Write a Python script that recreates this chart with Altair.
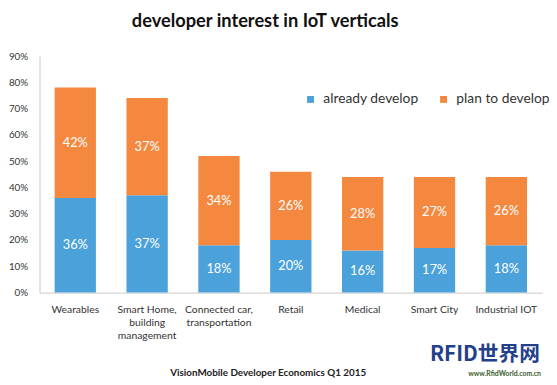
import altair as alt
import pandas as pd

categories = ["Wearables", "Smart Home,|building|management", "Connected car,|transportation",
              "Retail", "Medical", "Smart City", "Industrial IOT"]
already = [36, 37, 18, 20, 16, 17, 18]
plan = [42, 37, 34, 26, 28, 27, 26]
series = ["already develop", "plan to develop"]
colors = ["#4BA2DA", "#F5883F"]
y_ticks = [0, 10, 20, 30, 40, 50, 60, 70, 80, 90]
title_text = "developer interest in IoT verticals"
footer_text = "VisionMobile Developer Economics Q1 2015"
wm_text = "RFID世界网"
wm_url = "www.RfidWorld.com.cn"

rows = []
for c, a, p in zip(categories, already, plan):
    rows.append({"category": c, "series": series[0], "value": a, "order": 0})
    rows.append({"category": c, "series": series[1], "value": p, "order": 1})
df = pd.DataFrame(rows)

FONT = "Lato"

x_axis = alt.Axis(labelAngle=0, labelExpr="split(datum.label, '|')", labelFontSize=10.5,
                  labelLineHeight=13.5, labelPadding=12, ticks=False, domainColor="#c8c8c8",
                  labelColor="#333333", labelFont=FONT)
y_axis = alt.Axis(values=y_ticks, labelExpr="datum.value + '%'", grid=False, ticks=False,
                  labelPadding=12, labelFontSize=10, labelColor="#333333",
                  labelOverlap=False, domainColor="#c8c8c8", labelFont=FONT)
x_scale = alt.Scale(paddingInner=0.425, paddingOuter=0.21)
y_scale = alt.Scale(domain=[0, 90], nice=False)

base = (
    alt.Chart(df)
    .transform_stack(stack="value", as_=["v0", "v1"], groupby=["category"],
                     sort=[alt.SortField("order", order="ascending")])
    .transform_calculate(mid="(datum.v0 + datum.v1) / 2", label="datum.value + '%'")
)

bars = base.mark_bar().encode(
    x=alt.X("category:N", sort=categories, title=None, scale=x_scale, axis=x_axis),
    y=alt.Y("v0:Q", title=None, scale=y_scale, axis=y_axis),
    y2="v1:Q",
    color=alt.Color("series:N", scale=alt.Scale(domain=series, range=colors),
                    legend=alt.Legend(orient="none", legendX=268, legendY=37, direction="horizontal",
                                      title=None, symbolType="square", symbolSize=49,
                                      labelFontSize=14, labelFont=FONT, labelColor="#333333",
                                      columnPadding=18, labelOffset=6, padding=0,
                                      symbolStrokeWidth=0)),
    order=alt.Order("order:Q"),
)

texts = base.mark_text(color="white", fontSize=13, font=FONT).encode(
    x=alt.X("category:N", sort=categories, title=None, scale=x_scale, axis=x_axis),
    y=alt.Y("mid:Q", title=None, scale=y_scale, axis=y_axis),
    text="label:N",
)

footer = alt.Chart(pd.DataFrame({"t": [footer_text]})).mark_text(
    font=FONT, fontSize=10, fontWeight="bold", color="#222222"
).encode(x=alt.value(232), y=alt.value(322), text="t:N")

wm = alt.Chart(pd.DataFrame({"t": [wm_text]})).mark_text(
    font="Noto Sans CJK SC", fontSize=21, fontWeight="bold", color="#24408a"
).encode(x=alt.value(452), y=alt.value(303), text="t:N")

wm2 = alt.Chart(pd.DataFrame({"t": [wm_url]})).mark_text(
    font=FONT, fontSize=7, fontWeight="bold", color="#3a5a2a"
).encode(x=alt.value(472), y=alt.value(323), text="t:N")

chart = (
    alt.layer(bars, texts, footer, wm, wm2)
    .properties(
        width=510, height=240,
        title=alt.TitleParams(title_text, anchor="middle", frame="group", dx=-26, offset=21,
                              font=FONT, fontSize=18.5, fontWeight="bold", color="#111111"),
        autosize=alt.AutoSizeParams(type="none"),
        padding={"left": 32, "top": 46, "right": 7, "bottom": 91},
    )
    .configure_view(stroke=None)
)

chart.save("out.html", embed_options={"renderer": "svg", "actions": False})
